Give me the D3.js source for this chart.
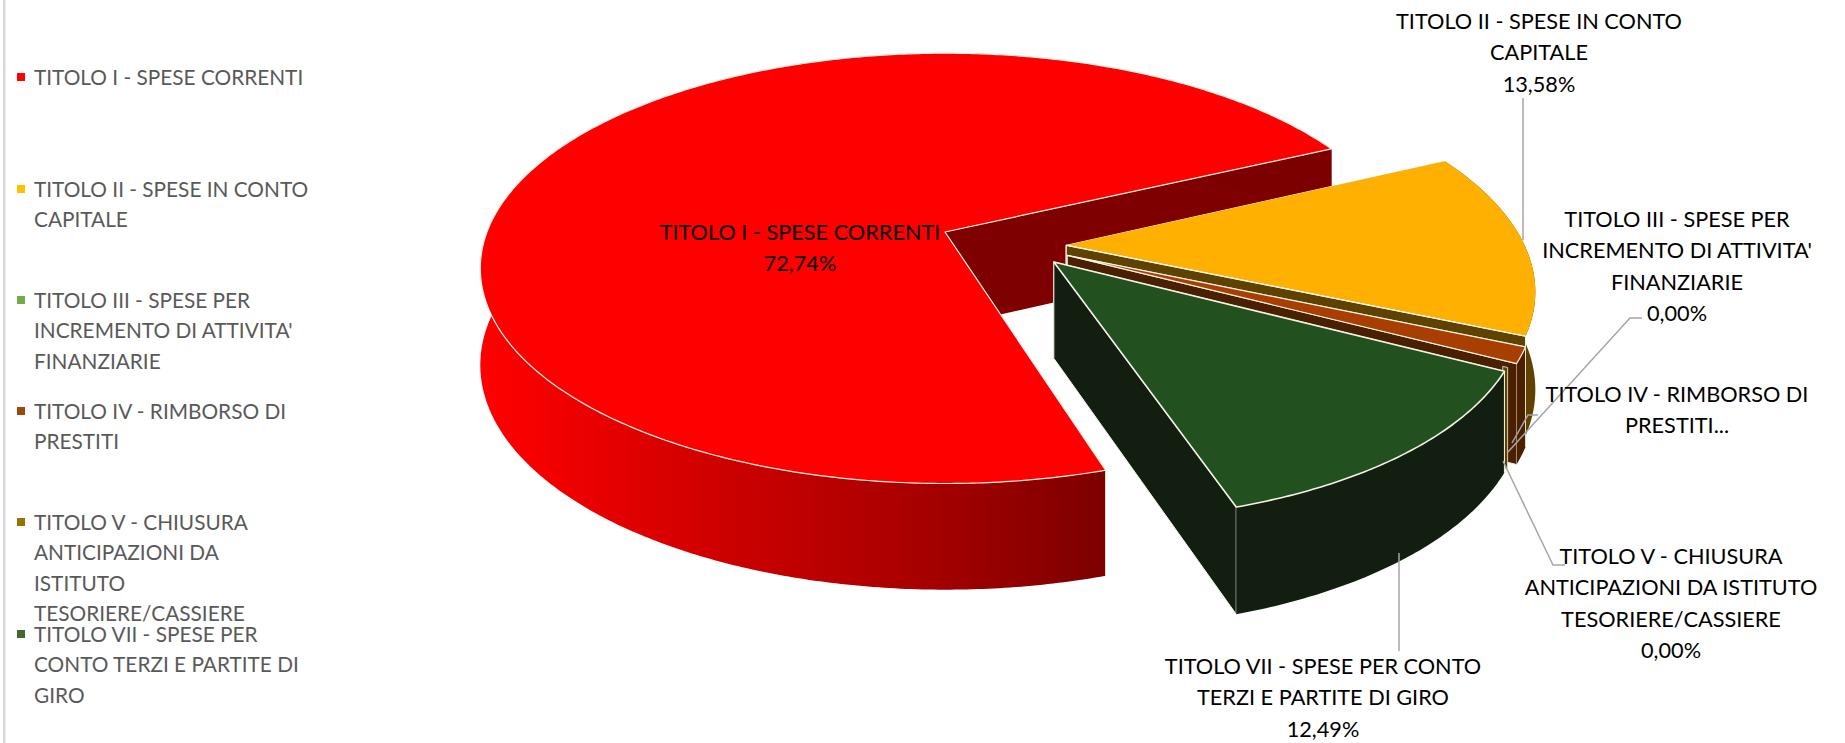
<!DOCTYPE html>
<html><head><meta charset="utf-8">
<script src="https://cdn.jsdelivr.net/npm/d3@7/dist/d3.min.js"></script>
<style>html,body{margin:0;padding:0;background:#fff;overflow:hidden}svg{display:block}text{font-family:Lato,Carlito,"Open Sans",sans-serif}</style>
</head><body><svg id="c" width="1845" height="743"></svg>
<script>
const categories=["TITOLO I - SPESE CORRENTI","TITOLO II - SPESE IN CONTO CAPITALE","TITOLO III - SPESE PER INCREMENTO DI ATTIVITA' FINANZIARIE","TITOLO IV - RIMBORSO DI PRESTITI","TITOLO V - CHIUSURA ANTICIPAZIONI DA ISTITUTO TESORIERE/CASSIERE","TITOLO VII - SPESE PER CONTO TERZI E PARTITE DI GIRO"];
const values=[72.74,13.58,0,1.19,0,12.49];
const legendColors=["#ff0000","#ffc000","#70ad47","#9e480e","#997300","#43682b"];
const topColors=["#ff0000","#ffb000","#70ad47","#a83f00","#997300","#22501e"];
const wallColors=["#7f0000","#5f4200","#5f4200","#4a2000","#5f4200","#121f10"];
const legendLines=[["TITOLO I - SPESE CORRENTI"],["TITOLO II - SPESE IN CONTO","CAPITALE"],["TITOLO III - SPESE PER","INCREMENTO DI ATTIVITA'","FINANZIARIE"],["TITOLO IV - RIMBORSO DI","PRESTITI"],["TITOLO V - CHIUSURA","ANTICIPAZIONI DA","ISTITUTO","TESORIERE/CASSIERE"],["TITOLO VII - SPESE PER","CONTO TERZI E PARTITE DI","GIRO"]];
const legendFirstBaseline=[85,197,308,419,530,642];
const labelLines=[["TITOLO I - SPESE CORRENTI","72,74%"],["TITOLO II - SPESE IN CONTO","CAPITALE","13,58%"],["TITOLO III - SPESE PER","INCREMENTO DI ATTIVITA'","FINANZIARIE","0,00%"],["TITOLO IV - RIMBORSO DI","PRESTITI..."],["TITOLO V - CHIUSURA","ANTICIPAZIONI DA ISTITUTO","TESORIERE/CASSIERE","0,00%"],["TITOLO VII - SPESE PER CONTO","TERZI E PARTITE DI GIRO","12,49%"]];
const labelAnchor=[[800,240],[1539,29],[1677,227],[1677,402],[1671,564],[1323,674]];
const leaders=[[[1523,98],[1523,240]],[[1642,318],[1630,318],[1508,452]],[[1538,415],[1528,415],[1512,443]],[[1503,461],[1553,565],[1565,565]],[[1399,553],[1399,651]]];
// exploded slice origins on the pie plane, and slice radius
const origins=[[0,0],[0.262,0.063],[0.262,0.063],[0.262,0.11],[0.25,0.13],[0.232,0.14]];
const radii=[1,0.99,0.99,0.98,0.975,0.98];

const svg=d3.select("#c");
const A={x:945,y:232},Rx=458,Ry=209,P=0.169,D=95;
const sx=d3.scaleLinear().domain([0,1]).range([A.x,A.x+Rx]);
const sy=d3.scaleLinear().domain([0,1]).range([A.y,A.y+Ry]);
function proj(u,v,low){const w=1-P*v;return [sx(u/w),sy(v/w)+(low?D/Math.pow(w,0.6):0)];}
const pie=d3.pie().sort(null).value(d=>d).startAngle(162.9*Math.PI/180).endAngle((162.9+360)*Math.PI/180);
const arcs=pie(values);
const line=d3.line();
const defs=svg.append("defs");
const grad=defs.append("linearGradient").attr("id","redWall").attr("gradientUnits","userSpaceOnUse").attr("x1",480).attr("x2",1104).attr("y1",0).attr("y2",0);
[[0,"#ff0000"],[0.1,"#f40000"],[0.35,"#d20000"],[0.7,"#a80000"],[1,"#7d0000"]].forEach(s=>grad.append("stop").attr("offset",s[0]).attr("stop-color",s[1]));
svg.append("rect").attr("x",3).attr("y",0).attr("width",2.5).attr("height",743).attr("fill","#d9d9d9");
const edge="#f2f2e6";
const chart=svg.append("g");
arcs.forEach((a,i)=>{
  const o={u:origins[i][0],v:origins[i][1]},r=radii[i];
  const pt=(t,low,f=1)=>proj(o.u+f*r*Math.sin(t),o.v-f*r*Math.cos(t),low);
  const g=chart.append("g");
  if(i==4){ // zero-width slice seen only as a sliver at its rim
    const t=a.startAngle;
    g.append("path").attr("d",line([pt(t,false,0.985),pt(t,false,0.995),pt(t,true,0.995),pt(t,true,0.985)])+"Z").attr("fill",wallColors[i]).attr("stroke",edge).attr("stroke-width",0.8);
    return;
  }
  const n=Math.max(2,Math.ceil((a.endAngle-a.startAngle)/0.01));
  const ts=d3.range(n+1).map(k=>a.startAngle+(a.endAngle-a.startAngle)*k/n);
  const apexT=proj(o.u,o.v,false),apexB=proj(o.u,o.v,true);
  [a.startAngle,a.endAngle].forEach(t=>{
    g.append("path").attr("d",line([apexT,pt(t,false),pt(t,true),apexB])+"Z").attr("fill",wallColors[i]).attr("stroke",edge).attr("stroke-width",i==0?0:1);
  });
  if(a.endAngle>a.startAngle){
    const wall=ts.map(t=>pt(t,false)).concat(ts.slice().reverse().map(t=>pt(t,true)));
    g.append("path").attr("d",line(wall)+"Z").attr("fill",i==0?"url(#redWall)":wallColors[i]).attr("stroke","none");
    g.append("path").attr("d",line([pt(a.startAngle,false),pt(a.startAngle,true)])).attr("stroke",edge).attr("stroke-width",i==0||i==5?1:0.8);
  }
  const top=[apexT].concat(ts.map(t=>pt(t,false)));
  g.append("path").attr("d",line(top)+"Z").attr("fill",topColors[i]).attr("stroke",i==1?"none":edge).attr("stroke-width",i==5?1.6:1.2).attr("stroke-linejoin","round");
  if(i==1) g.append("path").attr("d",line([apexT,pt(a.endAngle,false)])).attr("stroke",edge).attr("stroke-width",1.2);
});
leaders.forEach(l=>svg.append("path").attr("d",line(l)).attr("fill","none").attr("stroke","#a6a6a6").attr("stroke-width",1.5));
labelLines.forEach((ls,i)=>{
  const t=svg.append("text").attr("text-anchor","middle").attr("font-size",21.7).attr("fill","#000");
  ls.forEach((s,k)=>t.append("tspan").attr("x",labelAnchor[i][0]).attr("y",labelAnchor[i][1]+k*31.3).text(s));
});
legendLines.forEach((ls,i)=>{
  svg.append("rect").attr("x",17).attr("y",legendFirstBaseline[i]-12).attr("width",8).attr("height",8).attr("fill",legendColors[i]);
  const t=svg.append("text").attr("font-size",20.8).attr("fill","#595959");
  ls.forEach((s,k)=>t.append("tspan").attr("x",34).attr("y",legendFirstBaseline[i]+k*30.3).text(s));
});
</script></body></html>
